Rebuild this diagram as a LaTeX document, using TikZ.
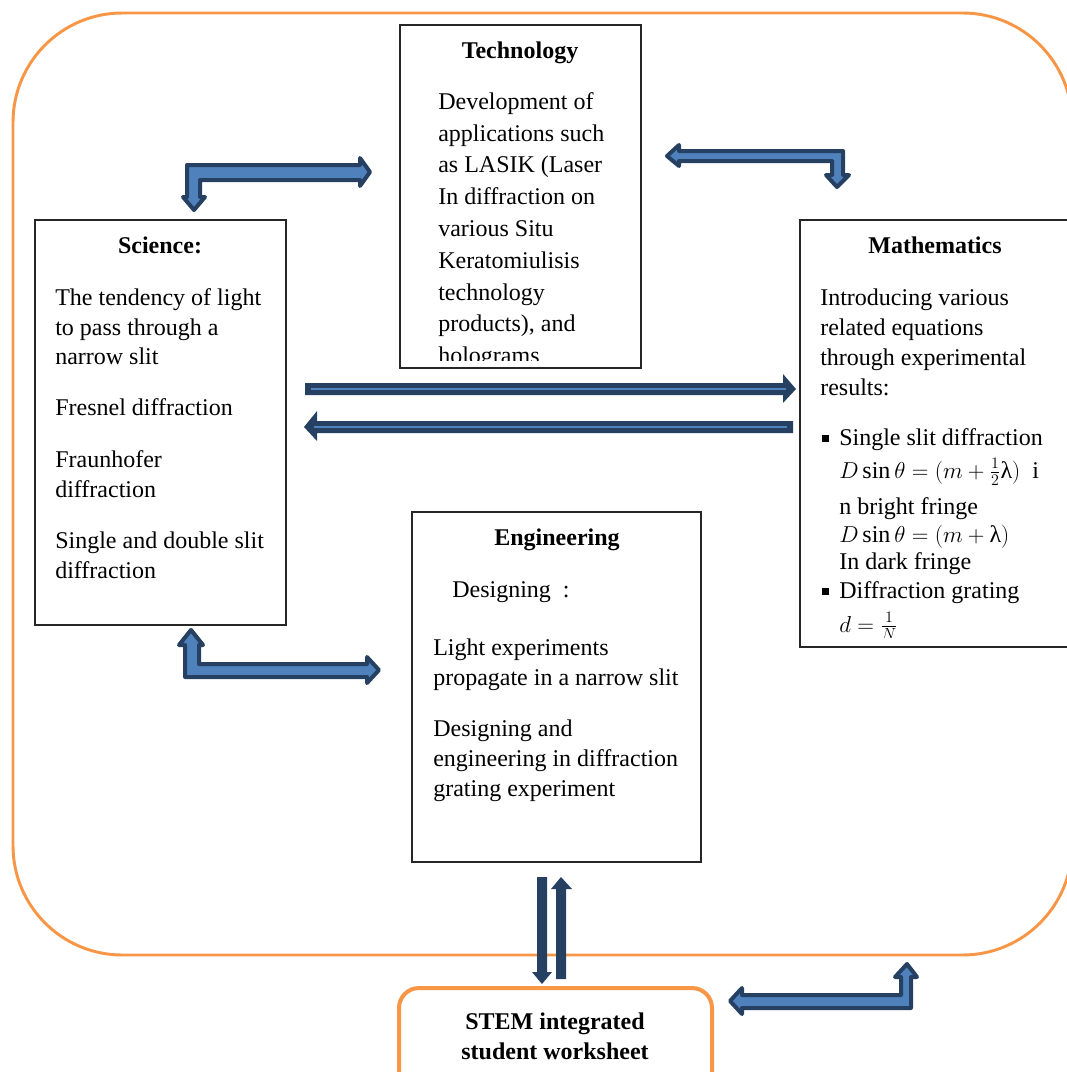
\documentclass[tikz,border=0pt]{standalone}
\usepackage{fontspec}
\setmainfont{Liberation Serif}
\begin{document}
\begin{tikzpicture}[x=0.75pt,y=-0.75pt,
  txt/.style={font=\fontsize{18}{22.5}\selectfont, inner sep=0pt, anchor=base west},
  ttl/.style={font=\fontsize{18}{22.5}\selectfont\bfseries, inner sep=0pt, anchor=base},
  boxframe/.style={draw=black!85, line width=0.9pt, fill=white},
  blockarrow/.style={fill=arrlight, draw=arrdark, line width=3pt, line join=round},
  solidarrow/.style={fill=arrdark, draw=none},
  centerline/.style={draw=arrlight, line width=2pt}]
\definecolor{arrdark}{RGB}{38,64,98}
\definecolor{arrlight}{RGB}{79,129,189}
\definecolor{orng}{RGB}{247,150,70}
\useasboundingbox (0,0) rectangle (1067,1072);
% outer frame
\draw[orng, line width=2.2pt, rounded corners=82pt] (13,13) rectangle (1072,955);
% boxes
\draw[boxframe] (400,25) rectangle (641,368);
\draw[boxframe] (35,220) rectangle (286,625);
\draw[boxframe] (800,220) rectangle (1080,647);
\draw[boxframe] (412,512) rectangle (701,862);
\draw[orng, line width=3pt, fill=white, rounded corners=15pt] (399,988) rectangle (712,1095);
% Technology
\node[ttl] (techT) at (520,58) {Technology};
\begin{scope}
\clip (401,26) rectangle (640,360);
\foreach \yy/\t [count=\i] in {109/{Development of},141/{applications such},172/{as LASIK (Laser},204/{In diffraction on},236/{various Situ},268/{Keratomiulisis},300/{technology},331/{products), and},363/{holograms}}
  \node[txt] (tech\i) at (438,\yy) {\t};
\end{scope}
% Science
\node[ttl] (sciT) at (160,253) {Science:};
\foreach \yy/\t [count=\i] in {305/{The tendency of light},335/{to pass through a},364/{narrow slit},415/{Fresnel diffraction},467/{Fraunhofer},497/{diffraction},548/{Single and double slit},578/{diffraction}}
  \node[txt] (sci\i) at (55,\yy) {\t};
% Mathematics
\node[ttl] (mathT) at (935,253) {Mathematics};
\begin{scope}
\clip (801,221) rectangle (1066,637);
\foreach \yy/\t [count=\i] in {305/{Introducing various},335/{related equations},365/{through experimental},395/{results:},445/{Single slit diffraction},514/{n bright fringe},569/{In dark fringe},598/{Diffraction grating}}
  \node[txt] (math\i) at (\ifnum\i>4 839\else 820\fi,\yy) {\t};
\node[txt] (eq1) at (839,478) {$D\sin\theta=(m+\frac{1}{2}\mbox{λ})$\ \ i};
\node[txt] (eq2) at (839,542) {$D\sin\theta=(m+\mbox{λ})$};
\node[txt] (eq3) at (839,632) {$d=\frac{1}{N}$};
\fill (822,435) rectangle (829,442);
\fill (822,588) rectangle (829,595);
\end{scope}
% Engineering
\node[ttl] (engT) at (557,545) {Engineering};
\node[txt] (eng0) at (452,597) {Designing\ \ :};
\foreach \yy/\t [count=\i] in {655/{Light experiments},685/{propagate in a narrow slit},736/{Designing and},766/{engineering in diffraction},796/{grating experiment}}
  \node[txt] (eng\i) at (433,\yy) {\t};
% STEM
\node[ttl] (stem1) at (555,1029) {STEM integrated};
\node[ttl] (stem2) at (555,1059) {student worksheet};
% bent block arrows
\path[blockarrow] (200,197) -- (205,197) -- (194,210) -- (183,197) -- (187,197) -- (187,165) -- (360,165) -- (360,158) -- (370,172) -- (360,186) -- (360,180) -- (200,180) -- cycle;
\path[blockarrow] (843,151) -- (679,151) -- (679,145) -- (667,156) -- (679,166) -- (679,161) -- (832,161) -- (832,175) -- (826,175) -- (837,187) -- (849,175) -- (843,175) -- cycle;
\path[blockarrow] (191,630) -- (203,645) -- (199,645) -- (199,664) -- (367,664) -- (367,657) -- (379,670) -- (367,683) -- (367,677) -- (185,677) -- (185,645) -- (179,645) -- cycle;
\path[blockarrow] (907,964) -- (917,977) -- (911,977) -- (911,1008) -- (742,1008) -- (742,1014) -- (730,1001) -- (742,988) -- (742,995) -- (901,995) -- (901,977) -- (895,977) -- cycle;
% horizontal arrows
\path[solidarrow] (305,383) -- (783,383) -- (783,374) -- (796,389) -- (783,403) -- (783,395) -- (305,395) -- cycle;
\path[centerline] (311,389) -- (786,389);
\path[solidarrow] (793,421) -- (317,421) -- (317,411) -- (304,427) -- (317,441) -- (317,433) -- (793,433) -- cycle;
\path[centerline] (787,427) -- (314,427);
% vertical arrows
\path[solidarrow] (537,877) -- (547,877) -- (547,972) -- (552,972) -- (542,984) -- (532,972) -- (537,972) -- cycle;
\path[solidarrow] (556,979) -- (566,979) -- (566,889) -- (572,889) -- (561,877) -- (551,889) -- (556,889) -- cycle;
\end{tikzpicture}
\end{document}
